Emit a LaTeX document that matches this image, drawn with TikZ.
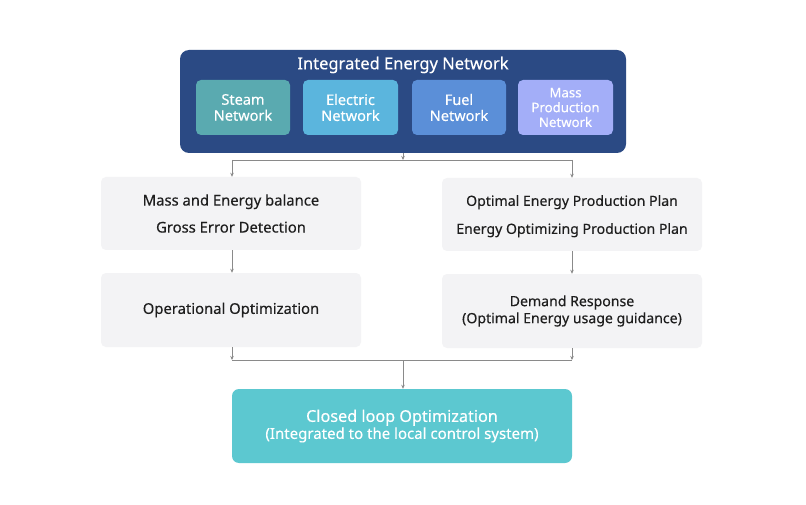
\documentclass[tikz,border=0pt]{standalone}
\usepackage{fontspec}
\setmainfont{Noto Sans}[FakeBold=0.3]
\usetikzlibrary{arrows.meta}
\definecolor{navy}{HTML}{2B4A84}
\definecolor{steamc}{HTML}{5AAAB0}
\definecolor{elecc}{HTML}{5BB5DD}
\definecolor{fuelc}{HTML}{5B8FD8}
\definecolor{massc}{HTML}{A3AEF8}
\definecolor{lightbox}{HTML}{F3F3F5}
\definecolor{closedc}{HTML}{5CC8D0}
\definecolor{linec}{HTML}{8A8A8A}
\definecolor{txt}{HTML}{1E1E1E}
\begin{document}
\begin{tikzpicture}[x=1pt,y=-1pt,
  subbox/.style={rounded corners=5pt, text=white, font=\fontsize{14.5}{16}\selectfont, align=center, inner sep=0pt},
  lbox/.style={rounded corners=5pt, fill=lightbox, text=txt, font=\fontsize{14.8}{17}\selectfont, align=center, inner sep=0pt},
  rfont/.style={font=\fontsize{14.1}{17}\selectfont},
  conn/.style={draw=linec, line width=0.8pt},
  arr/.style={conn, -{Stealth[length=4pt,width=3.5pt]}}
]
\useasboundingbox (0,0) rectangle (806,505);
\fill[white] (0,0) rectangle (806,505);
% main box
\node[fill=navy, rounded corners=9pt, minimum width=446pt, minimum height=103pt, inner sep=0pt] (main) at (403,101.5) {};
\node[text=white, font=\fontsize{16.5}{18}\selectfont] (title) at (403,65) {Integrated Energy Network};
\node[subbox, fill=steamc, minimum width=94pt, minimum height=55pt] (steam) at (243,107.5) {Steam\\Network};
\node[subbox, fill=elecc, minimum width=95pt, minimum height=55pt] (elec) at (350.5,107.5) {Electric\\Network};
\node[subbox, fill=fuelc, minimum width=94pt, minimum height=55pt] (fuel) at (459,107.5) {Fuel\\Network};
\node[subbox, fill=massc, minimum width=95pt, minimum height=55pt, font=\fontsize{13.2}{14.8}\selectfont] (mass) at (565.5,107.5) {Mass\\Production\\Network};
% light boxes
\node[lbox, minimum width=260pt, minimum height=73pt] (mb) at (231,213.5) {Mass and Energy balance\\[10pt]Gross Error Detection};
\node[lbox, rfont, minimum width=260pt, minimum height=73pt, text depth=0pt] (op) at (572,214.5) {Optimal Energy Production Plan\\[11pt]Energy Optimizing Production Plan};
\node[lbox, minimum width=260pt, minimum height=74pt] (oo) at (231,310) {Operational Optimization};
\node[lbox, rfont, minimum width=260pt, minimum height=74pt] (dr) at (572,311) {Demand Response\\(Optimal Energy usage guidance)};
\node[fill=closedc, rounded corners=7pt, minimum width=340pt, minimum height=74pt, inner sep=0pt, text=white, align=center, font=\fontsize{16.2}{19}\selectfont] (cl) at (402,426) {\raisebox{-2pt}{Closed loop Optimization}\\{\fontsize{15}{17}\selectfont (Integrated to the local control system)}};
% connectors
\coordinate (j1) at (403,160);
\coordinate (j1l) at (232,160);
\coordinate (j1r) at (572,160);
\draw[arr] (main.south) -- (j1);
\draw[conn] (j1l) -- (j1r);
\draw[arr] (j1l) -- (j1l |- mb.north);
\draw[arr] (j1r) -- (j1r |- op.north);
\draw[arr] (j1l |- mb.south) -- (j1l |- oo.north);
\draw[arr] (j1r |- op.south) -- (j1r |- dr.north);
\coordinate (j2l) at (232,360);
\coordinate (j2r) at (572,360);
\coordinate (j2) at (403,360);
\draw[arr] (j1l |- oo.south) -- (j2l);
\draw[arr] (j1r |- dr.south) -- (j2r);
\draw[conn] (j2l) -- (j2r);
\draw[arr] (j2) -- (j2 |- cl.north);
\end{tikzpicture}
\end{document}
